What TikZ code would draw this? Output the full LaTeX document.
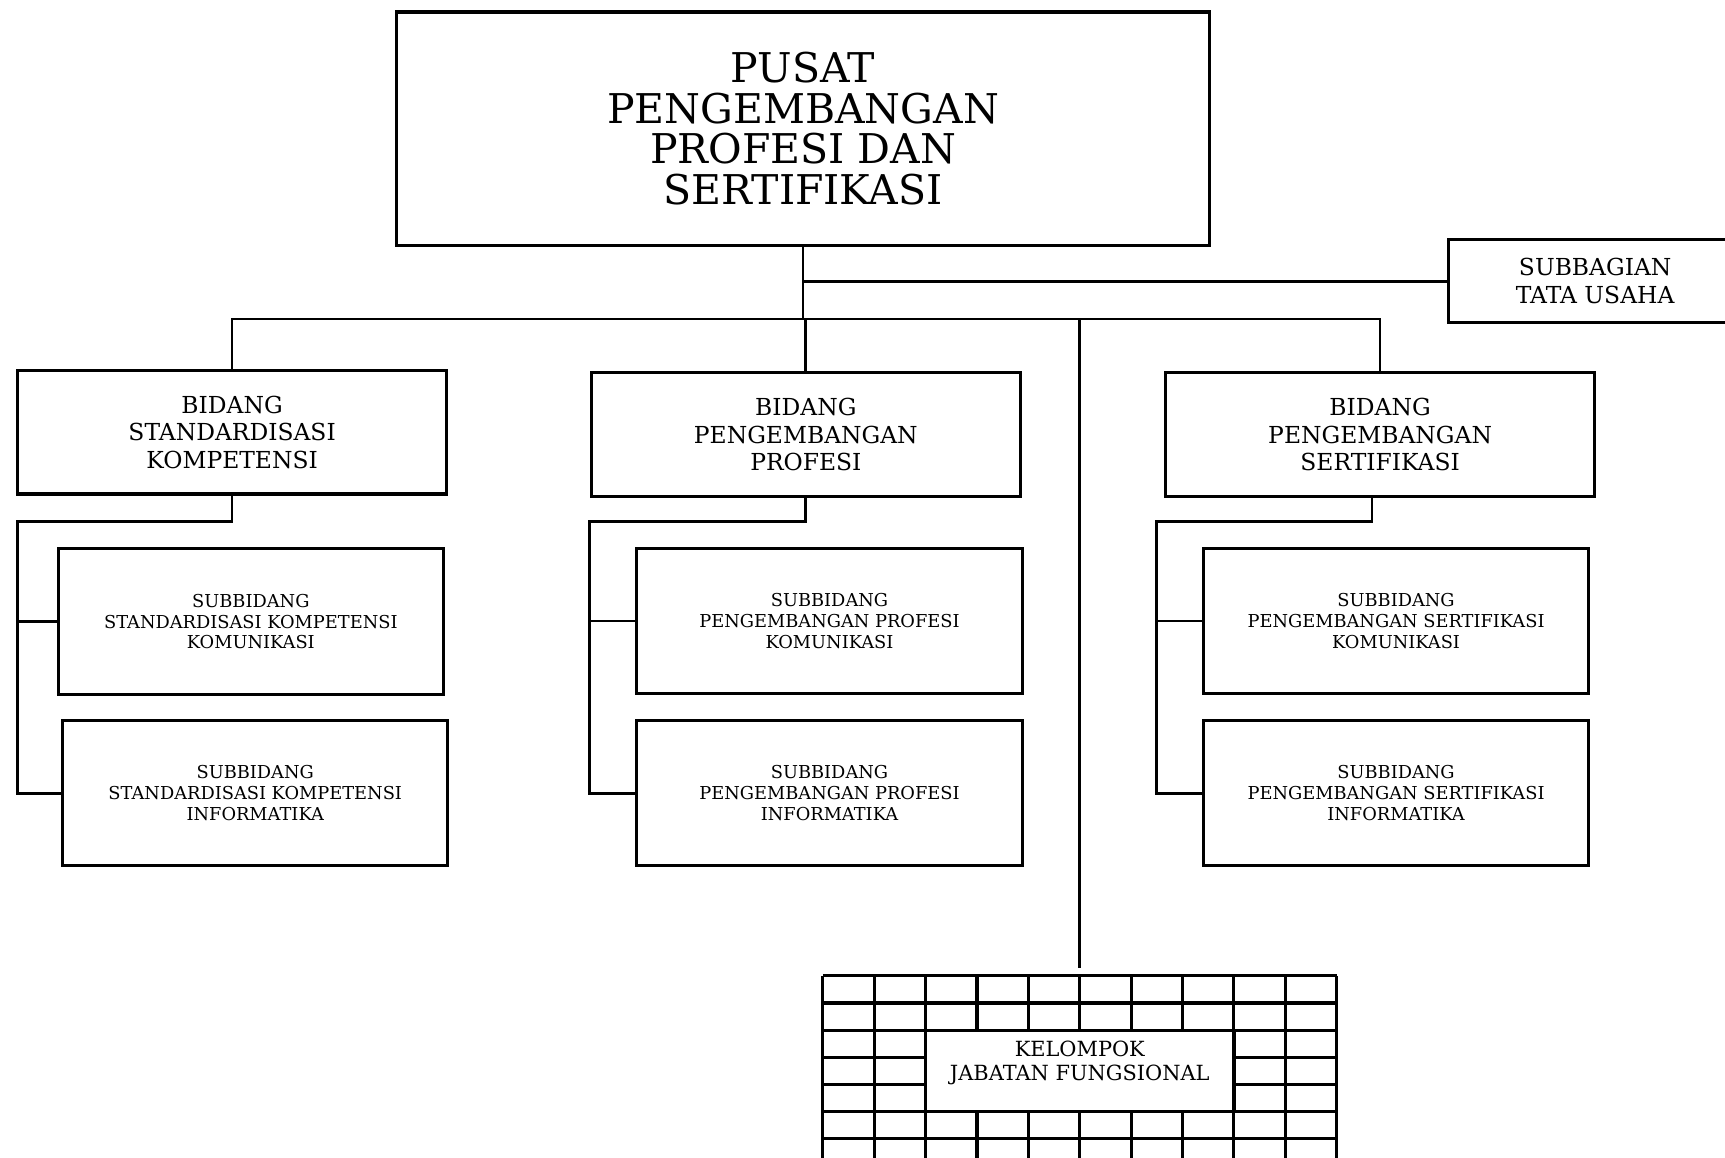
\documentclass[tikz,border=0pt]{standalone}
\usepackage{fontspec}
\setmainfont{DejaVu Serif}
\begin{document}
\begin{tikzpicture}[x=0.01cm,y=-0.01cm,
  box/.style={draw, line width=0.8pt, rectangle, inner sep=0pt, align=center},
  conn/.style={line width=0.7pt},
  gridl/.style={line width=0.8pt},
  titlef/.style={font=\fontsize{10.6}{10.5}\selectfont},
  midf/.style={font=\fontsize{6.05}{7.2}\selectfont},
  smallf/.style={font=\fontsize{4.6}{5.4}\selectfont},
  kelf/.style={font=\fontsize{5.4}{6.2}\selectfont},
  bidang/.style={box, midf, minimum width=3.9cm, minimum height=1.12cm},
  sub/.style={box, smallf, minimum width=3.5cm, minimum height=1.32cm},
]
\useasboundingbox (0,0) rectangle (1568,1052);

% boxes
\node[box, titlef, minimum width=7.38cm, minimum height=2.12cm] (top) at (730,117)
  {PUSAT\\PENGEMBANGAN\\PROFESI DAN\\SERTIFIKASI};
\node[box, midf, minimum width=2.66cm, minimum height=0.75cm] (tu) at (1450,255.5)
  {SUBBAGIAN\\TATA USAHA};

\node[bidang] (b1) at (211,393) {BIDANG\\STANDARDISASI\\KOMPETENSI};
\node[bidang] (b2) at (732.5,395) {BIDANG\\PENGEMBANGAN\\PROFESI};
\node[bidang] (b3) at (1254.5,395) {BIDANG\\PENGEMBANGAN\\SERTIFIKASI};

\node[sub] (s1a) at (228,565) {SUBBIDANG\\STANDARDISASI KOMPETENSI\\KOMUNIKASI};
\node[sub] (s1b) at (232,721) {SUBBIDANG\\STANDARDISASI KOMPETENSI\\INFORMATIKA};
\node[sub] (s2a) at (754,564.5) {SUBBIDANG\\PENGEMBANGAN PROFESI\\KOMUNIKASI};
\node[sub] (s2b) at (754,721) {SUBBIDANG\\PENGEMBANGAN PROFESI\\INFORMATIKA};
\node[sub] (s3a) at (1269,564.5) {SUBBIDANG\\PENGEMBANGAN SERTIFIKASI\\KOMUNIKASI};
\node[sub] (s3b) at (1269,721) {SUBBIDANG\\PENGEMBANGAN SERTIFIKASI\\INFORMATIKA};

% kelompok jabatan fungsional grid
\node[inner sep=0pt, minimum width=4.67cm, minimum height=0.05cm, anchor=north] (kgrid) at (981.5,887) {};
\foreach \i in {0,...,10}
  \draw[gridl] (748+\i*46.7,887) -- (748+\i*46.7,1075);
\foreach \j in {0,...,6}
  \draw[gridl] (748,887+\j*24.7) -- (1215,887+\j*24.7);
\node[draw, line width=0.8pt, fill=white, inner sep=0pt, minimum width=2.802cm, minimum height=0.741cm] (kwin) at (981.5,973.45) {};
\node[kelf, align=center, inner sep=0pt] (kel) at (981.5,966) {KELOMPOK\\JABATAN FUNGSIONAL};

% connectors
\coordinate (j1) at (730,256);
\coordinate (j2) at (730,290);
\coordinate (kj) at (981.5,290);
\draw[conn] (top.south) -- (j2);
\draw[conn] (j1) -- (j1 -| tu.west);
\draw[conn] (b1.north) |- (b3.north |- j2) -- (b3.north);
\draw[conn] (b2.north) -- (b2.north |- j2);
\draw[conn, shorten >=0.07cm] (kj) -- (kgrid.north);

\coordinate (c1) at (16,474);
\coordinate (c2) at (536,474);
\coordinate (c3) at (1051,474);
\draw[conn] (b1.south) |- (c1) |- (s1b.west);
\draw[conn] (s1a.west -| c1) -- (s1a.west);
\draw[conn] (b2.south) |- (c2) |- (s2b.west);
\draw[conn] (s2a.west -| c2) -- (s2a.west);
\draw[conn] ([xshift=-0.075cm]b3.south) |- (c3) |- (s3b.west);
\draw[conn] (s3a.west -| c3) -- (s3a.west);
\end{tikzpicture}
\end{document}
